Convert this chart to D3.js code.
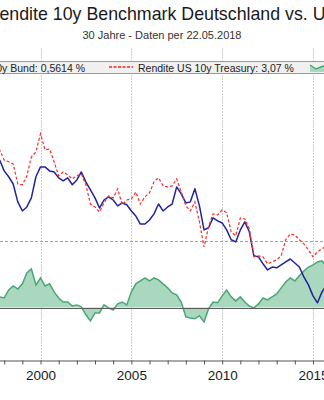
<!DOCTYPE html>
<html>
<head>
<meta charset="utf-8">
<script src="https://cdn.jsdelivr.net/npm/d3@7"></script>
<style>
  html, body { margin: 0; padding: 0; background: #fff; overflow: hidden; }
  svg { display: block; font-family: "Liberation Sans", Arial, sans-serif; }
</style>
</head>
<body>
<svg id="chart" width="324" height="400"></svg>
<script>
// ---------- data (quarterly readings, % yield) ----------
const dates = ["1997-07","1997-10","1998-01","1998-04","1998-07","1998-10","1999-01","1999-04","1999-07","1999-10",
  "2000-01","2000-04","2000-07","2000-10","2001-01","2001-04","2001-07","2001-10","2002-01","2002-04",
  "2002-07","2002-10","2003-01","2003-04","2003-07","2003-10","2004-01","2004-04","2004-07","2004-10",
  "2005-01","2005-04","2005-07","2005-10","2006-01","2006-04","2006-07","2006-10","2007-01","2007-04",
  "2007-07","2007-10","2008-01","2008-04","2008-07","2008-10","2009-01","2009-04","2009-07","2009-10",
  "2010-01","2010-04","2010-07","2010-10","2011-01","2011-04","2011-07","2011-10","2012-01","2012-04",
  "2012-07","2012-10","2013-01","2013-04","2013-07","2013-10","2014-01","2014-04","2014-07","2014-10",
  "2015-01","2015-04","2015-07","2015-10","2016-01"];

const bundYield = [5.68,5.53,5.12,4.90,4.63,3.96,3.62,3.77,4.11,4.90,
  5.27,5.27,5.12,5.08,4.86,4.75,4.86,4.60,4.78,5.08,
  4.71,4.41,4.11,3.73,4.03,4.15,4.03,3.81,3.92,3.85,
  3.62,3.43,3.13,3.13,3.28,3.51,3.88,3.62,3.77,3.88,
  4.52,4.26,3.92,3.96,4.45,3.81,2.91,2.99,3.36,3.25,
  3.17,2.91,2.54,2.46,2.91,3.21,2.84,1.94,1.90,1.64,
  1.41,1.52,1.49,1.60,1.71,1.82,1.67,1.52,1.15,0.85,
  0.44,0.18,0.59,0.85,0.59];

const treasuryYield = [6.06,5.91,5.53,5.46,5.38,4.63,4.60,4.93,5.64,5.83,
  6.51,5.91,5.94,5.46,4.93,5.08,4.97,4.82,4.93,5.01,
  4.60,3.88,3.77,3.58,3.92,4.18,4.11,4.45,3.85,4.03,
  4.07,4.33,3.88,4.15,4.30,4.71,4.86,4.56,4.52,4.56,
  4.82,4.33,3.81,3.62,3.96,3.21,2.27,3.02,3.51,3.47,
  3.66,3.55,2.84,2.69,3.36,3.32,2.95,1.90,1.94,1.90,
  1.64,1.71,1.79,1.94,2.54,2.76,2.72,2.54,2.39,2.16,
  1.90,2.09,2.20,2.31,2.20];

const spread = [0.40,0.40,0.36,0.66,0.81,0.70,0.89,1.30,1.45,0.85,
  1.11,0.81,0.89,0.59,0.36,0.21,0.21,0.06,0.10,0.03,
  -0.27,-0.50,-0.20,-0.20,0.10,-0.01,-0.09,0.14,0.21,0.10,
  0.59,0.89,1.00,1.11,1.00,1.11,1.04,0.89,0.74,0.55,
  0.48,0.21,-0.35,-0.39,-0.42,-0.31,-0.54,-0.05,0.21,0.18,
  0.44,0.66,0.40,0.25,0.40,0.21,0.06,-0.01,0.14,0.36,
  0.29,0.40,0.51,0.74,0.96,1.11,1.00,1.19,1.37,1.52,
  1.60,1.71,1.75,1.56,1.60];

const titleText = "Rendite 10y Benchmark Deutschland vs. US";
const subtitleText = "30 Jahre - Daten per 22.05.2018";
const legendLabels = ["Rendite DE 10y Bund: 0,5614 %", "Rendite US 10y Treasury: 3,07 %"];
const labelYears = [2000, 2005, 2010, 2015];
const refLevel = 2.5;

// ---------- setup ----------
const parse = d3.timeParse("%Y-%m");
const rows = dates.map((d, i) => ({ date: parse(d), de: bundYield[i], us: treasuryYield[i], sp: spread[i] }));

const svg = d3.select("#chart");
const W = 324, H = 400;
const plotTop = 48, plotBottom = 360.5;

const x = d3.scaleTime()
  .domain([new Date(2000, 0, 1), new Date(2015, 0, 1)])
  .range([40.5, 313]);
const xFull = x.copy()
  .domain([new Date(1988, 0, 1), new Date(2018, 5, 1)])
  .range([x(new Date(1988, 0, 1)), x(new Date(2018, 5, 1))]);

const y = d3.scaleLinear().domain([-2, 8]).range([361, 94]);

// ---------- title ----------
svg.append("text").attr("x", W / 2).attr("y", 20).attr("text-anchor", "middle")
  .attr("font-size", "17.8px").attr("fill", "#1a1a1a").text(titleText);
svg.append("text").attr("x", W / 2).attr("y", 38.5).attr("text-anchor", "middle")
  .attr("font-size", "11px").attr("fill", "#333").text(subtitleText);

// ---------- gridlines ----------
const gridYears = labelYears.map(yr => new Date(yr, 0, 1));
svg.append("g").selectAll("line").data(gridYears).join("line")
  .attr("x1", d => Math.round(x(d)) + 0.5).attr("x2", d => Math.round(x(d)) + 0.5)
  .attr("y1", plotTop).attr("y2", plotBottom)
  .attr("stroke", "#cfcfcf").attr("stroke-width", 1).attr("stroke-dasharray", "2,1");

svg.append("line")
  .attr("x1", -10).attr("x2", W + 10)
  .attr("y1", Math.round(y(refLevel)) + 0.5).attr("y2", Math.round(y(refLevel)) + 0.5)
  .attr("stroke", "#a0a0a0").attr("stroke-width", 1).attr("stroke-dasharray", "3,2");

// ---------- spread area ----------
const area = d3.area().x(d => x(d.date)).y0(y(0)).y1(d => y(d.sp));
svg.append("path").datum(rows).attr("d", area)
  .attr("fill", "#a9d8bf").attr("stroke", "none");
svg.append("path").datum(rows)
  .attr("d", d3.line().x(d => x(d.date)).y(d => y(d.sp)))
  .attr("fill", "none").attr("stroke", "#4aa676").attr("stroke-width", 1.5);

// zero line
svg.append("line").attr("x1", -10).attr("x2", W + 10)
  .attr("y1", Math.round(y(0)) + 0.5).attr("y2", Math.round(y(0)) + 0.5)
  .attr("stroke", "#5a5a5a").attr("stroke-width", 1.2);

// ---------- yield lines ----------
svg.append("path").datum(rows)
  .attr("d", d3.line().x(d => x(d.date)).y(d => y(d.de)))
  .attr("fill", "none").attr("stroke", "#23239a").attr("stroke-width", 1.5)
  .attr("stroke-linejoin", "round");
svg.append("path").datum(rows)
  .attr("d", d3.line().x(d => x(d.date)).y(d => y(d.us)))
  .attr("fill", "none").attr("stroke", "#ff2b2b").attr("stroke-width", 1.2)
  .attr("stroke-dasharray", "3,2");

// ---------- x axis ----------
const axis = d3.axisBottom(xFull)
  .ticks(d3.timeYear.every(1))
  .tickSize(4).tickSizeOuter(0).tickPadding(6)
  .tickFormat(d => labelYears.includes(d.getFullYear()) ? String(d.getFullYear()) : "");
const gx = svg.append("g").attr("transform", `translate(0,${plotBottom})`).call(axis);
gx.select(".domain").attr("stroke", "#555");
gx.selectAll(".tick line").attr("stroke", "#555");
gx.selectAll(".tick text").attr("font-size", "13.5px").attr("fill", "#1a1a1a")
  .attr("font-family", "'Liberation Sans', Arial, sans-serif");

// ---------- legend ----------
const lg = svg.append("g");
lg.append("rect").attr("x", -20).attr("y", 61.5).attr("width", W + 40).attr("height", 12)
  .attr("fill", "#f0f0f0").attr("stroke", "#9a9a9a").attr("stroke-width", 1);
lg.append("text").attr("x", 85).attr("y", 71.5).attr("text-anchor", "end")
  .attr("font-size", "10.5px").attr("fill", "#222").text(legendLabels[0]);
lg.append("line").attr("x1", 109).attr("x2", 133).attr("y1", 67).attr("y2", 67)
  .attr("stroke", "#ff2020").attr("stroke-width", 1.5).attr("stroke-dasharray", "3,1.5");
lg.append("text").attr("x", 138).attr("y", 71.5)
  .attr("font-size", "10.5px").attr("fill", "#222").text(legendLabels[1]);
const sample = [[310, 65], [316, 69], [322, 66.5], [330, 65]];
lg.append("path")
  .attr("d", d3.area().x(d => d[0]).y0(72).y1(d => d[1])(sample))
  .attr("fill", "#a9d8bf");
lg.append("path")
  .attr("d", d3.line()(sample))
  .attr("fill", "none").attr("stroke", "#4aa676").attr("stroke-width", 1.5);
</script>
</body>
</html>
